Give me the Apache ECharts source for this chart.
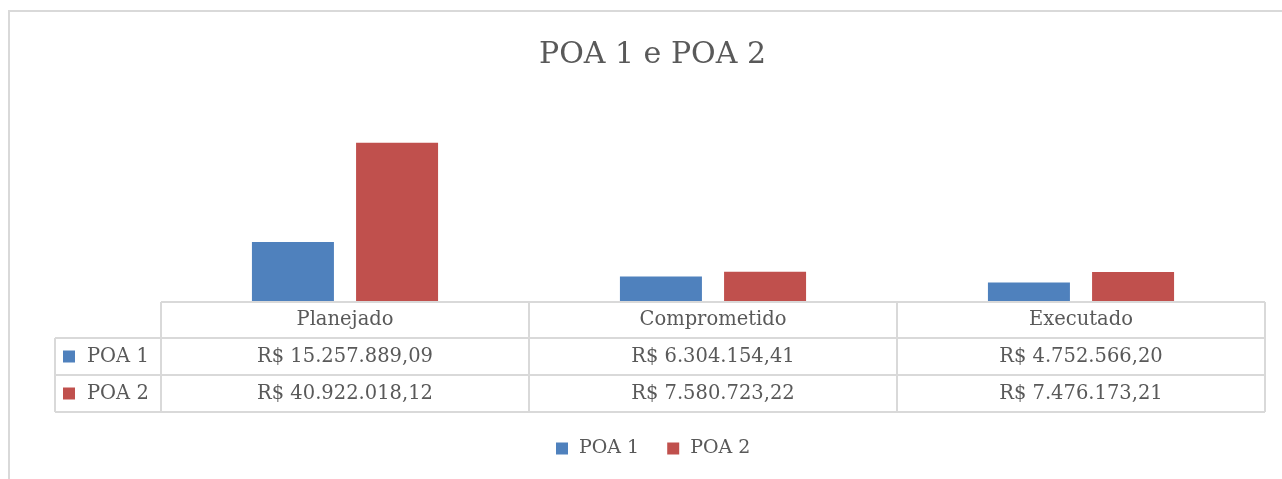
<!DOCTYPE html>
<html>
<head>
<meta charset="utf-8">
<script src="https://cdn.jsdelivr.net/npm/echarts@6/dist/echarts.min.js"></script>
<style>
  html, body { margin: 0; padding: 0; background: #fff; }
  #chart { width: 1282px; height: 479px; }
</style>
</head>
<body>
<div id="chart"></div>
<script>
// dados
var categories = ['Planejado', 'Comprometido', 'Executado'];
var seriesNames = ['POA 1', 'POA 2'];
var poa1 = [15257889.09, 6304154.41, 4752566.20];
var poa2 = [40922018.12, 7580723.22, 7476173.21];
var colors = ['#4f81bd', '#c0504d'];

var FONT = 'DejaVu Serif';
var TXT = '#595959';
var LINE = '#d9d9d9';

// formata em reais
function brl(v) {
  var p = v.toFixed(2).split('.');
  return 'R$ ' + p[0].replace(/\B(?=(\d{3})+(?!\d))/g, '.') + ',' + p[1];
}

var chart = echarts.init(document.getElementById('chart'));

var gridL = 161, gridR = 1265, base = 301;
chart.setOption({
  animation: false,
  color: colors,
  title: {
    text: 'POA 1 e POA 2',
    left: 534,
    top: 35,
    textStyle: { fontFamily: FONT, fontSize: 30, fontWeight: 'normal', color: TXT }
  },
  legend: {
    data: seriesNames,
    bottom: 16,
    left: 551,
    icon: 'rect',
    itemWidth: 12,
    itemHeight: 12,
    itemGap: 28,
    textStyle: { fontFamily: FONT, fontSize: 19, color: TXT, padding: [0, 0, 0, 6] }
  },
  grid: { left: gridL, right: 1282 - gridR, top: base - 45 * 3.868, bottom: 479 - base },
  xAxis: {
    type: 'category',
    data: categories,
    axisLine: { show: false },
    axisTick: { show: false },
    axisLabel: { show: false }
  },
  yAxis: {
    type: 'value',
    min: 0,
    max: 45000000,
    show: false,
    splitLine: { show: false }
  },
  series: [
    { name: seriesNames[0], type: 'bar', data: poa1, barWidth: 82, barGap: '27%' },
    { name: seriesNames[1], type: 'bar', data: poa2, barWidth: 82, barGap: '27%' }
  ]
});

// tabela de dados
var rowY = [302, 338, 375, 412];
var colX = [55, 161];
categories.forEach(function (c, i) {
  colX.push(chart.convertToPixel({ xAxisIndex: 0 }, c) + 184);
});
var g = [];
function line(x1, y1, x2, y2) {
  g.push({ type: 'line', shape: { x1: x1, y1: y1, x2: x2, y2: y2 },
    style: { stroke: LINE, lineWidth: 2 }, silent: true });
}
function text(t, x, y, align) {
  g.push({ type: 'text', x: x, y: y,
    style: { text: t, font: '19.5px "' + FONT + '"', fill: TXT,
      align: align || 'center', verticalAlign: 'middle' }, silent: true });
}
line(gridL, rowY[0], gridR, rowY[0]);
line(colX[0], rowY[1], gridR, rowY[1]);
line(colX[0], rowY[2], gridR, rowY[2]);
line(colX[0], rowY[3], gridR, rowY[3]);
line(colX[0], rowY[1], colX[0], rowY[3]);
for (var k = 1; k < colX.length; k++) line(colX[k], rowY[0], colX[k], rowY[3]);

var rows = [poa1, poa2];
categories.forEach(function (c, i) {
  var cx = chart.convertToPixel({ xAxisIndex: 0 }, c);
  text(c, cx, (rowY[0] + rowY[1]) / 2);
  rows.forEach(function (r, j) {
    text(brl(r[i]), cx, (rowY[j + 1] + rowY[j + 2]) / 2);
  });
});
seriesNames.forEach(function (n, j) {
  var cy = (rowY[j + 1] + rowY[j + 2]) / 2;
  g.push({ type: 'rect', shape: { x: 63, y: cy - 6, width: 12, height: 12 },
    style: { fill: colors[j] }, silent: true });
  text(n, 87, cy, 'left');
});

// moldura
g.push({ type: 'rect', shape: { x: 9, y: 11, width: 1400, height: 600 },
  style: { fill: null, stroke: LINE, lineWidth: 2 }, silent: true });

chart.setOption({ graphic: g });
</script>
</body>
</html>
